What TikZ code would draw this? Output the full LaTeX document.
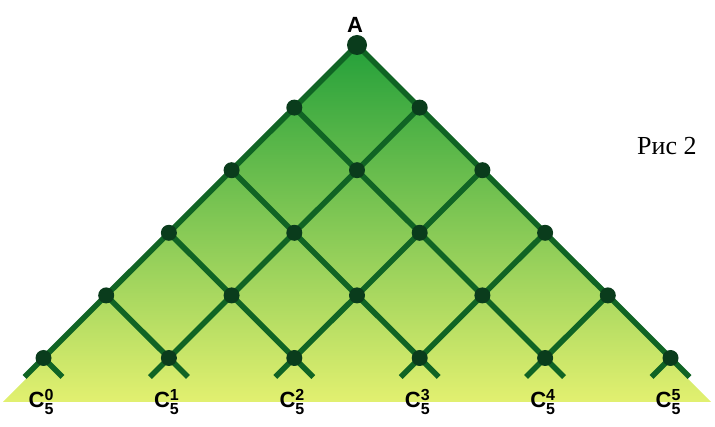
\documentclass[tikz,border=0pt]{standalone}
\usepackage{amsmath}
\usepackage{fontspec}
\setmainfont{Liberation Serif}
\newfontfamily\letterfont{Liberation Sans}
\DeclareMathSizes{22}{22}{16}{12}
\usetikzlibrary{backgrounds}
\definecolor{LeafTop}{RGB}{36,160,58}
\definecolor{LeafMid}{RGB}{100,200,68}
\definecolor{LeafBase}{RGB}{226,240,112}
\definecolor{Stem}{RGB}{16,100,36}
\definecolor{Knot}{RGB}{10,60,28}

\begin{document}
\begin{tikzpicture}[x=1pt,y=-1pt,
    knot/.style={circle,fill=Knot,inner sep=0pt,minimum size=16pt},
    stem/.style={draw=Stem,line width=5.5pt},
    letter/.style={font=\letterfont\bfseries\fontsize{22}{22}\selectfont,inner sep=0pt}]
  \useasboundingbox (0,0) rectangle (715,427);
  % knots of the lattice: row r, place k
  \node[knot,minimum size=20pt] (n00) at (357,45) {};
  \foreach \r in {1,...,5}
    \foreach \k in {0,...,\r}
      \node[knot] (n\r\k) at ({357+(2*\k-\r)*62.7},{45+\r*62.6}) {};
  % free ends below the last row
  \foreach \k in {0,...,5} {
    \coordinate (l\k) at ({357+(2*\k-5)*62.7-19},{377});
    \coordinate (r\k) at ({357+(2*\k-5)*62.7+19},{377});
  }
  \begin{scope}[on background layer]
    \shade[top color=LeafTop,middle color=LeafMid,bottom color=LeafBase]
      (n00.center) -- (711,402) -- (3,402) -- cycle;
    \foreach \r in {0,...,4}
      \foreach \k in {0,...,\r} {
        \pgfmathtruncatemacro\s{\r+1}
        \pgfmathtruncatemacro\j{\k+1}
        \draw[stem] (n\r\k.center) -- (n\s\k.center);
        \draw[stem] (n\r\k.center) -- (n\s\j.center);
      }
    \foreach \k in {0,...,5}
      \draw[stem] (l\k) -- (n5\k.center) -- (r\k);
  \end{scope}
  % labels
  \node[letter,anchor=base] (apex) at (355,33) {A};
  \foreach \k in {0,...,5}
    \node[letter,anchor=base west] (c\k) at ({357+(2*\k-5)*62.7-15},408)
      {C$^{\textbf{\k}}_{\textbf{5}}$};
  \node[anchor=base west,inner sep=0pt,font=\fontsize{26}{26}\selectfont] (fig) at (637,155) {Рис 2};
\end{tikzpicture}
\end{document}
